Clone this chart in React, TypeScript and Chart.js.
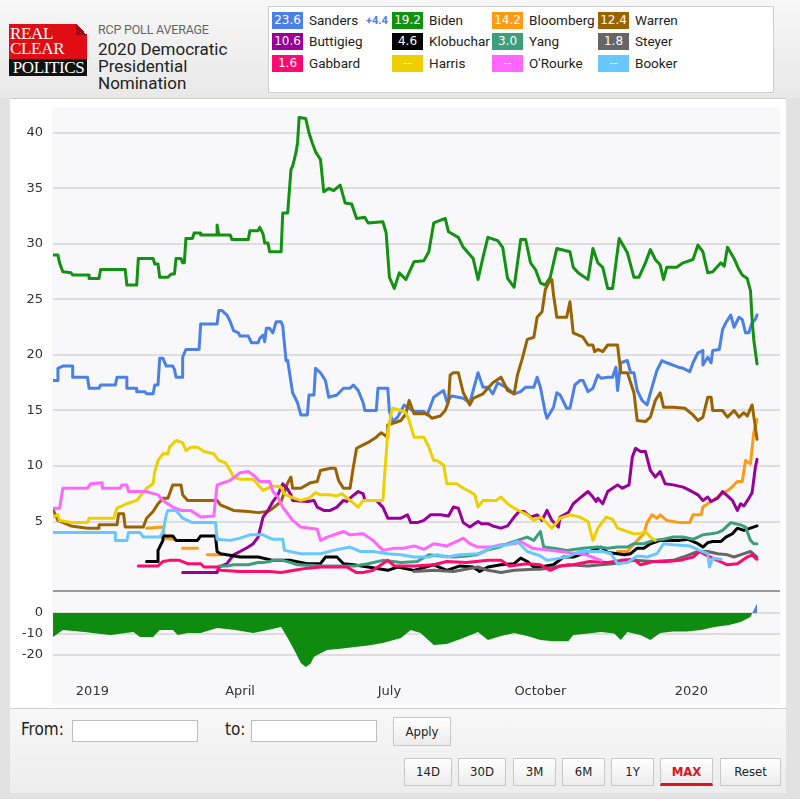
import React, { useEffect, useRef } from "react";
import { Chart, registerables } from "chart.js";
Chart.register(...registerables);

// x values are days since 1 Jan 2019
const tickDays = [0, 90, 181, 273, 365];
const tickLabels = ["2019", "April", "July", "October", "2020"];
const mainTicks = [5, 10, 15, 20, 25, 30, 35, 40];
const spreadTicks = [0, -10, -20];

const sandersData: [number, number][] = [[-24,17.7],[-21,17.7],[-21,18.8],[-18,19.0],[-12,19.0],[-12,18.0],[-3,18.0],[-2,17.0],[4,17.0],[5,17.3],[14,17.3],[15,18.0],[21,18.0],[21,17.0],[27,17.0],[27,16.7],[32,16.7],[33,16.5],[37,16.5],[38,17.3],[40,17.3],[41,19.7],[43,19.7],[45,19.0],[49,19.0],[50,18.7],[51,18.0],[55,18.0],[55,19.8],[57,20.5],[65,20.5],[66,22.8],[76,22.8],[77,24.0],[79,24.0],[82,23.6],[84,23.0],[86,22.2],[89,22.0],[90,21.7],[95,21.7],[97,21.1],[101,21.1],[102,21.5],[104,21.8],[105,21.2],[106,22.4],[108,22.4],[110,22.0],[112,23.0],[115,23.0],[116,22.6],[118,19.5],[119,19.5],[122,16.6],[125,15.7],[127,14.6],[131,14.6],[132,16.4],[135,16.4],[136,18.8],[139,18.4],[142,17.7],[144,16.2],[149,16.4],[153,17.0],[157,17.0],[159,17.3],[162,16.8],[165,15.7],[166,15.0],[173,15.0],[174,17.0],[180,17.0],[181,14.9],[183,14.0],[186,14.4],[190,15.5],[196,14.9],[202,14.9],[204,14.6],[208,16.2],[211,16.5],[214,16.8],[216,15.8],[219,16.3],[223,16.2],[226,16.1],[230,15.7],[235,18.4],[238,17.1],[241,17.1],[244,16.5],[247,17.5],[253,17.0],[257,16.5],[261,16.7],[264,17.1],[269,17.1],[271,18.0],[273,17.1],[276,14.8],[277,14.3],[281,15.3],[283,16.6],[285,16.4],[289,15.2],[291,15.2],[294,17.3],[297,17.7],[299,17.7],[302,16.7],[305,17.0],[308,18.2],[310,17.9],[314,18.0],[317,18.0],[319,18.9],[320,16.8],[322,19.3],[326,19.5],[328,18.4],[330,18.4],[332,16.8],[335,15.9],[338,15.5],[341,17.1],[344,18.6],[347,19.5],[350,19.3],[357,18.9],[360,18.8],[364,18.5],[366,19.3],[369,20.2],[372,20.4],[372,19.1],[375,19.8],[377,19.3],[378,20.4],[382,20.5],[384,22.3],[386,22.9],[389,23.6],[391,22.5],[394,23.4],[396,23.2],[398,22.0],[400,22.0],[402,22.9],[404,23.2],[405,23.6]];

const bidenData: [number, number][] = [[-24,29.0],[-21,29.0],[-20,28.3],[-18,27.5],[-13,27.4],[-12,27.2],[-2,27.2],[-2,26.9],[4,26.9],[5,27.7],[20,27.7],[21,26.3],[27,26.3],[28,28.7],[37,28.7],[38,28.2],[40,28.2],[41,27.0],[46,27.0],[48,27.3],[50,27.3],[51,28.7],[54,28.7],[55,28.3],[56,28.3],[57,30.5],[61,30.5],[62,31.0],[66,31.0],[66,30.8],[76,30.8],[76,31.7],[77,30.8],[84,30.8],[85,30.4],[95,30.4],[96,31.2],[101,31.2],[102,31.5],[104,30.9],[105,30.1],[107,30.1],[108,29.3],[115,29.3],[116,32.8],[119,32.8],[121,36.7],[122,37.0],[124,38.2],[125,39.1],[126,41.4],[130,41.3],[132,40.0],[134,39.1],[136,38.3],[139,37.6],[141,34.7],[144,35.0],[147,34.8],[151,35.3],[154,33.7],[158,33.6],[161,32.3],[166,32.4],[168,31.9],[177,32.0],[179,31.0],[181,27.0],[184,26.0],[187,27.4],[191,26.8],[196,28.4],[202,28.5],[205,29.3],[208,31.9],[215,32.3],[217,31.1],[223,30.6],[226,29.7],[232,28.7],[235,26.8],[238,28.8],[241,30.6],[247,30.3],[250,29.7],[253,26.9],[257,26.1],[261,30.4],[264,30.4],[267,28.3],[270,27.7],[273,26.5],[276,26.3],[279,27.0],[283,29.6],[291,29.3],[293,27.9],[296,27.4],[302,26.8],[305,29.6],[308,28.3],[311,27.9],[314,26.0],[317,26.0],[321,30.5],[326,29.2],[330,27.0],[333,27.0],[337,28.3],[340,29.5],[343,28.6],[346,28.1],[348,26.8],[350,27.9],[356,27.9],[360,28.3],[366,28.6],[369,29.9],[372,29.3],[375,27.4],[378,27.5],[383,28.3],[385,28.0],[387,29.7],[391,28.7],[394,27.7],[396,27.2],[399,26.9],[401,25.8],[402,23.2],[403,21.4],[405,19.2]];

const bloombergData: [number, number | null][] = [[33,4.4],[43,4.5],[44,3.5],[50,3.4],[51,null],[55,2.6],[64,2.6],[65,null],[70,2.0],[79,2.0],[80,null],[320,2.3],[326,2.3],[332,3.3],[336,3.9],[338,4.9],[341,5.6],[344,5.3],[346,5.6],[350,5.1],[358,4.9],[364,4.9],[366,5.6],[371,5.6],[372,6.3],[377,6.8],[381,7.2],[385,7.6],[389,8.0],[393,8.6],[396,8.6],[398,10.5],[401,10.2],[403,13.0],[405,14.2]];

const warrenData: [number, number][] = [[-24,6.1],[-21,5.1],[-13,4.6],[-3,4.4],[4,4.4],[4,4.7],[15,4.7],[16,5.7],[19,5.7],[20,4.5],[31,4.5],[33,5.3],[37,5.9],[40,6.6],[43,7.1],[46,7.1],[49,8.3],[54,8.3],[55,7.4],[58,6.9],[76,6.9],[78,6.5],[86,6.0],[95,5.9],[101,5.8],[107,5.9],[110,6.2],[115,6.8],[119,8.5],[121,9.0],[122,8.0],[127,8.0],[133,8.5],[137,8.6],[139,9.6],[145,9.8],[148,9.8],[150,8.7],[153,8.0],[157,8.0],[159,9.9],[161,11.6],[165,11.9],[169,12.2],[173,12.6],[176,13.0],[180,12.6],[180,13.7],[184,13.9],[188,14.1],[191,14.7],[193,15.9],[196,14.7],[204,14.7],[207,14.3],[212,14.5],[215,15.0],[217,15.8],[218,18.2],[220,18.4],[223,18.4],[226,16.6],[230,15.5],[232,16.1],[238,16.5],[244,17.5],[249,18.0],[253,16.8],[257,16.5],[259,18.2],[262,19.7],[265,21.4],[269,21.6],[271,23.4],[274,23.9],[276,25.9],[278,26.5],[280,26.8],[281,25.4],[283,23.4],[289,23.4],[291,24.8],[293,22.0],[299,21.6],[302,20.9],[305,20.9],[306,20.3],[308,20.5],[311,20.3],[314,20.9],[320,20.9],[322,18.4],[326,18.4],[330,16.6],[332,14.1],[337,14.0],[340,14.4],[343,15.9],[346,16.6],[348,15.3],[354,15.3],[361,15.2],[366,14.6],[369,14.1],[372,14.4],[375,16.2],[377,16.2],[378,15.0],[384,15.0],[387,14.4],[391,15.0],[394,14.4],[397,14.8],[399,14.5],[402,15.5],[404,13.5],[405,12.4]];

const buttigiegData: [number, number][] = [[55,0.4],[76,0.4],[77,0.9],[82,1.2],[86,2.0],[90,2.3],[95,2.7],[98,3.0],[101,3.6],[104,5.4],[107,6.0],[110,6.8],[113,7.4],[116,8.4],[119,7.9],[121,7.4],[122,6.9],[131,6.8],[135,6.9],[137,6.3],[141,6.0],[145,6.0],[149,6.3],[153,6.9],[155,6.8],[157,7.1],[162,7.7],[165,7.5],[166,6.9],[173,6.9],[177,6.3],[180,5.3],[188,5.3],[192,5.6],[194,4.9],[198,4.9],[202,5.1],[206,5.6],[212,5.6],[217,5.5],[220,6.3],[223,6.2],[226,4.9],[230,4.5],[235,5.0],[237,4.8],[241,4.8],[244,4.6],[249,4.4],[253,4.6],[257,5.4],[260,5.9],[263,5.9],[267,5.4],[271,5.6],[274,5.1],[277,6.0],[280,5.1],[284,4.5],[285,5.4],[290,5.8],[293,6.6],[297,7.1],[302,7.7],[305,7.2],[307,6.8],[308,7.1],[311,6.6],[314,7.7],[317,8.0],[320,8.3],[323,8.0],[327,8.3],[329,10.8],[331,11.6],[334,11.3],[337,11.3],[340,9.6],[343,9.0],[346,9.5],[349,8.4],[354,8.3],[360,8.1],[364,7.8],[369,7.4],[372,6.9],[375,7.2],[377,6.8],[381,7.1],[384,7.7],[387,7.3],[390,6.9],[393,6.0],[395,6.6],[397,6.4],[400,7.1],[402,7.6],[404,9.9],[405,10.6]];

const klobucharData: [number, number][] = [[33,1.4],[40,1.4],[40,2.4],[43,3.3],[43,3.7],[49,3.7],[51,3.3],[64,3.3],[66,3.7],[75,3.7],[76,2.3],[78,2.1],[82,2.0],[90,1.8],[101,1.8],[110,1.5],[121,1.5],[131,1.2],[139,1.2],[142,1.8],[149,1.8],[153,1.2],[159,1.1],[168,0.9],[180,0.6],[186,0.9],[196,0.6],[208,1.1],[216,0.6],[224,1.0],[232,0.9],[236,0.5],[241,0.9],[249,1.1],[257,1.2],[261,1.7],[265,1.4],[269,0.9],[273,0.9],[281,1.1],[287,1.8],[293,1.8],[299,2.1],[305,2.4],[310,2.7],[314,2.2],[320,2.1],[324,2.0],[328,2.1],[332,2.6],[336,2.6],[340,3.0],[346,3.3],[352,3.3],[358,3.3],[363,3.4],[369,3.0],[372,2.7],[375,3.1],[378,3.2],[383,3.2],[386,3.6],[390,3.9],[393,4.4],[397,4.2],[401,4.4],[405,4.6]];

const yangData: [number, number][] = [[77,1.0],[82,1.0],[86,1.1],[95,1.1],[101,1.3],[104,1.3],[108,1.4],[110,1.5],[116,1.5],[121,1.3],[125,1.1],[140,1.0],[160,1.0],[168,1.2],[177,1.5],[188,1.3],[198,1.4],[205,2.0],[212,1.9],[220,1.8],[228,1.9],[234,2.0],[240,2.4],[248,2.7],[253,3.0],[259,3.3],[265,3.6],[269,3.3],[273,4.1],[275,2.7],[281,2.6],[289,2.4],[299,2.6],[308,2.7],[314,2.6],[320,2.7],[326,2.7],[330,3.0],[336,3.0],[342,3.3],[348,3.4],[354,3.6],[360,3.6],[366,3.4],[372,3.8],[377,3.9],[381,4.0],[384,4.2],[389,4.9],[392,4.8],[395,4.7],[398,4.5],[401,3.3],[403,3.0],[405,3.0]];

const steyerData: [number, number][] = [[196,0.5],[208,0.6],[220,0.5],[235,0.9],[241,0.6],[249,0.4],[257,0.6],[269,0.7],[273,0.7],[282,0.9],[290,1.1],[302,1.0],[310,1.1],[317,1.2],[330,1.5],[342,1.4],[354,1.5],[360,1.8],[369,2.3],[375,2.3],[381,2.1],[387,2.0],[391,1.8],[397,2.1],[401,2.3],[405,1.8]];

const gabbardData: [number, number][] = [[28,1.0],[40,1.0],[43,1.4],[47,1.5],[53,1.5],[58,1.2],[66,1.2],[68,0.9],[76,0.9],[78,0.6],[90,0.5],[101,0.5],[108,0.5],[115,0.4],[123,0.6],[131,0.8],[139,0.9],[155,0.9],[161,0.4],[165,0.4],[171,0.6],[180,1.5],[184,1.0],[196,1.0],[208,1.1],[216,1.4],[228,1.3],[241,1.5],[249,1.5],[254,1.0],[265,1.2],[273,1.1],[279,0.6],[285,1.0],[293,1.1],[303,1.4],[314,1.3],[322,1.5],[330,1.6],[334,1.1],[342,1.4],[350,1.4],[358,1.5],[366,1.8],[370,2.3],[375,1.9],[381,1.5],[387,1.1],[393,1.2],[399,1.8],[402,2.0],[404,1.7],[405,1.6]];

const harrisData: [number, number][] = [[-24,5.4],[-21,5.6],[-20,5.1],[-12,4.9],[-3,4.9],[-2,5.3],[13,5.3],[15,6.2],[21,6.6],[27,6.9],[31,7.6],[33,8.0],[37,8.4],[38,9.5],[40,10.5],[43,11.1],[46,11.1],[47,11.7],[51,12.3],[55,12.1],[57,11.4],[60,11.7],[64,11.7],[68,11.3],[74,11.1],[77,10.5],[81,10.3],[84,9.6],[86,9.0],[90,8.8],[98,8.8],[101,8.3],[104,7.8],[110,8.2],[115,8.1],[117,7.5],[121,7.2],[127,6.9],[132,7.1],[136,7.6],[139,7.4],[145,7.4],[149,7.3],[152,7.5],[157,6.9],[162,6.3],[165,6.9],[177,6.9],[178,9.0],[180,13.0],[182,14.7],[183,15.2],[188,15.0],[191,14.8],[193,14.1],[196,12.6],[202,12.6],[205,11.7],[208,10.5],[210,10.5],[214,10.1],[216,8.4],[222,8.4],[226,8.0],[230,7.7],[233,7.4],[235,6.3],[238,6.9],[246,6.9],[249,7.2],[253,6.6],[257,6.2],[261,5.9],[265,5.6],[269,5.1],[273,5.4],[276,5.0],[280,4.4],[285,5.3],[291,5.6],[297,5.4],[302,5.0],[305,3.3],[308,4.4],[313,5.4],[317,5.2],[320,4.4],[326,4.1],[330,3.9],[334,3.9],[337,4.1],[340,3.6],[343,3.3]];

const orourkeData: [number, number][] = [[-24,6.2],[-20,6.2],[-18,8.0],[-3,8.0],[-1,8.4],[6,8.5],[6,8.0],[17,8.0],[18,8.3],[21,8.3],[22,7.7],[33,7.7],[35,7.6],[40,7.4],[43,6.9],[49,6.3],[54,6.0],[60,6.0],[66,5.4],[74,5.5],[76,8.3],[84,8.7],[90,9.4],[95,9.5],[98,9.2],[102,8.6],[108,8.6],[110,7.7],[113,7.2],[116,6.3],[122,5.1],[127,4.5],[137,4.3],[139,3.3],[143,3.6],[153,4.1],[157,3.8],[165,3.9],[171,3.3],[177,2.4],[184,2.6],[190,2.6],[196,2.8],[202,2.5],[208,3.0],[216,2.8],[222,3.2],[226,3.5],[230,3.0],[235,2.7],[243,2.7],[249,2.9],[257,3.0],[261,3.2],[268,2.6],[279,2.4],[290,2.2],[301,2.0],[310,1.5]];

const bookerData: [number, number][] = [[-24,4.0],[14,4.0],[14,3.3],[21,3.3],[22,4.0],[29,4.0],[31,3.6],[41,3.6],[43,4.0],[45,5.6],[46,6.0],[51,6.0],[55,5.3],[61,4.9],[75,4.9],[76,3.4],[84,3.3],[90,3.5],[96,3.8],[104,3.8],[110,3.4],[116,3.4],[117,2.4],[127,2.1],[139,2.1],[147,2.4],[157,2.7],[163,2.3],[171,2.3],[180,2.1],[188,2.0],[196,1.8],[205,1.8],[210,2.0],[216,1.8],[224,2.0],[236,2.1],[244,2.7],[253,2.9],[259,3.2],[265,2.3],[273,1.9],[277,1.5],[285,1.7],[291,1.9],[297,2.3],[305,2.3],[311,2.3],[316,2.1],[320,1.2],[326,1.3],[332,1.9],[338,1.8],[344,2.1],[348,3.0],[354,2.9],[364,2.8],[370,2.4],[375,2.1],[376,0.9],[378,1.7],[383,1.6]];

// Sanders minus Biden spread (lower panel)
const spreadData: [number, number][] = [[-24,-11.4],[-18,-8.1],[-5,-9.0],[11,-10.5],[25,-9.0],[29,-11.4],[37,-11.4],[41,-8.1],[49,-8.1],[52,-10.5],[58,-9.5],[66,-9.5],[76,-7.1],[86,-8.0],[98,-9.5],[107,-8.1],[115,-6.7],[119,-11.9],[123,-17.6],[127,-23.8],[130,-25.7],[133,-24.0],[135,-21.0],[137,-20.0],[143,-17.6],[151,-17.0],[160,-16.2],[168,-15.5],[177,-14.3],[188,-11.9],[194,-8.1],[200,-9.5],[208,-15.2],[216,-14.8],[224,-12.5],[235,-9.0],[241,-12.9],[249,-11.0],[257,-9.5],[265,-11.0],[273,-12.9],[281,-13.5],[290,-13.5],[293,-10.5],[302,-9.8],[310,-9.0],[318,-9.8],[322,-12.9],[326,-9.0],[334,-10.5],[340,-12.9],[346,-9.5],[354,-8.8],[362,-8.8],[371,-8.1],[379,-6.7],[388,-5.7],[395,-4.3],[401,-1.9],[403,1.4],[405,4.4]];

const legendNames = ["Sanders", "Biden", "Bloomberg", "Warren", "Buttigieg", "Klobuchar", "Yang", "Steyer", "Gabbard", "Harris", "O'Rourke", "Booker"];
const legendValues = ["23.6", "19.2", "14.2", "12.4", "10.6", "4.6", "3.0", "1.8", "1.6", "--", "--", "--"];
const leaderMargin = "+4.4";

const COLORS: Record<string, string> = {
  Sanders: "#4a80e8",
  Biden: "#129112",
  Bloomberg: "#ff9a15",
  Warren: "#9a6200",
  Buttigieg: "#990099",
  Klobuchar: "#000000",
  Yang: "#3d9e7c",
  Steyer: "#666666",
  Gabbard: "#ff0a6e",
  Harris: "#eed000",
  "O'Rourke": "#ff66ff",
  Booker: "#66c8ff",
};

const seriesByName: Record<string, [number, number | null][]> = {
  Booker: bookerData,
  "O'Rourke": orourkeData,
  Harris: harrisData,
  Gabbard: gabbardData,
  Steyer: steyerData,
  Yang: yangData,
  Klobuchar: klobucharData,
  Buttigieg: buttigiegData,
  Warren: warrenData,
  Bloomberg: bloombergData,
  Biden: bidenData,
  Sanders: sandersData,
};

const AXIS_FONT = { family: "'DejaVu Sans', Verdana, sans-serif", size: 13 };
const X_MIN = -24;
const X_MAX = 419;

const zeroPad = (s: any) => {
  s.paddingTop = 0;
  s.paddingBottom = 0;
  s.paddingLeft = 0;
  s.paddingRight = 0;
};

const separatorPlugin = {
  id: "separator",
  beforeDatasetsDraw(chart: any) {
    const { ctx, chartArea } = chart;
    ctx.save();
    ctx.strokeStyle = "#9a9a9a";
    ctx.lineWidth = 2;
    ctx.beginPath();
    ctx.moveTo(chartArea.left, chartArea.bottom);
    ctx.lineTo(chartArea.right, chartArea.bottom);
    ctx.stroke();
    ctx.restore();
  },
};

function App() {
  const mainRef = useRef<HTMLCanvasElement>(null);
  const spreadRef = useRef<HTMLCanvasElement>(null);

  useEffect(() => {
    const datasets = Object.keys(seriesByName).map((name) => ({
      label: name,
      data: seriesByName[name].map(([x, y]) => ({ x, y })),
      borderColor: COLORS[name],
      backgroundColor: COLORS[name],
      borderWidth: 3,
      pointRadius: 0,
      tension: 0,
      fill: false,
      spanGaps: false,
    }));

    const main = new Chart(mainRef.current!, {
      type: "line",
      data: { datasets } as any,
      options: {
        animation: false,
        responsive: false,
        maintainAspectRatio: false,
        layout: { padding: { top: 7, right: 6, bottom: 6, left: 0 }, autoPadding: false } as any,
        plugins: { legend: { display: false }, tooltip: { enabled: false } },
        elements: { line: { borderJoinStyle: "round", borderCapStyle: "round" } },
        scales: {
          x: { type: "linear", min: X_MIN, max: X_MAX, display: false },
          y: {
            type: "linear",
            min: -1.26,
            max: 42.34,
            afterFit: (s: any) => { s.width = 43; zeroPad(s); },
            afterBuildTicks: (s: any) => { s.ticks = mainTicks.map((v) => ({ value: v })); },
            grid: { color: "#dddddd", lineWidth: 2, drawTicks: false },
            border: { display: false },
            ticks: { padding: 10, color: "#333", font: AXIS_FONT },
          },
        },
      } as any,
      plugins: [separatorPlugin],
    });

    const spread = new Chart(spreadRef.current!, {
      type: "line",
      data: {
        datasets: [
          {
            label: "Spread",
            data: spreadData.map(([x, y]) => ({ x, y })),
            borderWidth: 0,
            borderColor: "rgba(0,0,0,0)",
            pointRadius: 0,
            tension: 0,
            fill: { target: "origin", above: "#4a80e8", below: "#0f8c0f" },
          },
        ],
      } as any,
      options: {
        animation: false,
        responsive: false,
        maintainAspectRatio: false,
        layout: { padding: { top: 3, right: 6, bottom: 0, left: 0 }, autoPadding: false } as any,
        plugins: { legend: { display: false }, tooltip: { enabled: false } },
        scales: {
          x: {
            type: "linear",
            min: X_MIN,
            max: X_MAX,
            afterFit: (s: any) => { s.height = 33; zeroPad(s); },
            afterBuildTicks: (s: any) => { s.ticks = tickDays.map((v) => ({ value: v })); },
            grid: { display: false, drawTicks: false },
            border: { display: false },
            ticks: {
              padding: 9,
              maxRotation: 0,
              autoSkip: false,
              color: "#333",
              font: AXIS_FONT,
              callback: (v: any) => {
                const i = tickDays.indexOf(Number(v));
                return i >= 0 ? tickLabels[i] : "";
              },
            },
          },
          y: {
            type: "linear",
            min: -29.52,
            max: 6.19,
            afterFit: (s: any) => { s.width = 43; zeroPad(s); },
            afterBuildTicks: (s: any) => { s.ticks = spreadTicks.map((v) => ({ value: v })); },
            grid: { color: "#dddddd", lineWidth: 2, drawTicks: false },
            border: { display: false },
            ticks: { padding: 10, color: "#333", font: AXIS_FONT },
          },
        },
      } as any,
    });

    return () => {
      main.destroy();
      spread.destroy();
    };
  }, []);

  const abs = (l: number, t: number, w?: number, h?: number): React.CSSProperties => ({
    position: "absolute",
    left: l,
    top: t,
    ...(w !== undefined ? { width: w } : {}),
    ...(h !== undefined ? { height: h } : {}),
  });

  const colX = [272, 392, 492, 598];
  const rowY = [12, 33, 55];

  const btn = (label: string, l: number, w: number, active = false) => (
    <div
      key={label}
      style={{
        ...abs(l, 758, w, 28),
        boxSizing: "border-box",
        border: "1px solid #c8c8c8",
        background: "linear-gradient(#ffffff, #ececec)",
        fontFamily: "'DejaVu Sans Condensed', 'DejaVu Sans', sans-serif",
        fontStretch: "condensed",
        fontSize: 13,
        lineHeight: "26px",
        textAlign: "center",
        color: active ? "#e0141e" : "#222",
        fontWeight: active ? "bold" : "normal",
        borderBottom: active ? "3px solid #e0141e" : "1px solid #c8c8c8",
      }}
    >
      {label}
    </div>
  );

  return (
    <div style={{ ...abs(0, 0, 800, 799), background: "#e2e2e2", overflow: "hidden", fontFamily: "Roboto, sans-serif" }}>
      {/* header */}
      <div style={{ ...abs(0, 0, 800, 98), background: "linear-gradient(#f7f7f7, #e8e8e8)" }} />
      {/* logo */}
      <div style={{ ...abs(9, 24, 78, 36), background: "#e00d14" }} />
      <div style={{ ...abs(76, 24, 11, 11), background: "linear-gradient(225deg, #f0f0f0 50%, #a00a10 50%)" }} />
      <div style={{ ...abs(9, 59, 78, 17), background: "#111" }} />
      <div style={{ ...abs(10, 26), color: "#fff", fontFamily: "'Liberation Serif', serif", fontSize: 17, lineHeight: "15px", letterSpacing: -0.3 }}>
        REAL<br />CLEAR
      </div>
      <div style={{ ...abs(10, 60, 77, 16), color: "#fff", fontFamily: "'Liberation Serif', serif", fontSize: 17, lineHeight: "16px", textAlign: "center", letterSpacing: -0.4 }}>
        POLITICS
      </div>
      <div style={{ ...abs(98, 22), color: "#666", fontSize: 12.5, letterSpacing: -0.2 }}>RCP POLL AVERAGE</div>
      <div style={{ ...abs(98, 41), color: "#222", fontSize: 17, lineHeight: "17px" }}>
        2020 Democratic<br />Presidential<br />Nomination
      </div>

      {/* legend */}
      <div style={{ ...abs(268, 6, 506, 87), background: "#fff", border: "1px solid #cfcfcf", boxSizing: "border-box" }} />
      {legendNames.map((name, i) => {
        const c = i % 4;
        const r = Math.floor(i / 4);
        return (
          <React.Fragment key={name}>
            <div
              style={{
                ...abs(colX[c], rowY[r], 31, 17),
                background: COLORS[name],
                color: "#fff",
                fontFamily: "'DejaVu Sans', sans-serif",
                fontSize: 12,
                lineHeight: "17px",
                textAlign: "center",
              }}
            >
              {legendValues[i]}
            </div>
            <div style={{ ...abs(colX[c] + 37, rowY[r] - 1), fontSize: 13.5, lineHeight: "19px", color: "#222" }}>{name}</div>
          </React.Fragment>
        );
      })}
      <div style={{ ...abs(366, 13), color: "#4a80e8", fontSize: 11, fontWeight: "bold", lineHeight: "16px" }}>{leaderMargin}</div>

      {/* chart panel */}
      <div style={{ ...abs(10, 98, 776, 610), background: "#fff", borderTop: "1px solid #cccccc", boxSizing: "border-box" }} />
      <div style={{ ...abs(52, 107, 728, 598), background: "#f8f8fb" }} />
      <canvas ref={mainRef} width={776} height={497} style={{ ...abs(10, 100, 776, 497) }} />
      <canvas ref={spreadRef} width={776} height={111} style={{ ...abs(10, 597, 776, 111) }} />

      {/* controls */}
      <div style={{ ...abs(10, 708, 776, 85), background: "linear-gradient(#f7f7f7, #ededed)", borderTop: "1px solid #cfcfcf", boxSizing: "border-box" }} />
      <div style={{ ...abs(21, 719), fontFamily: "'DejaVu Sans Condensed', 'DejaVu Sans', sans-serif", fontStretch: "condensed", fontSize: 17, color: "#222" }}>From:</div>
      <div style={{ ...abs(72, 720, 126, 22), background: "#fff", border: "1px solid #bdbdbd", boxSizing: "border-box" }} />
      <div style={{ ...abs(225, 719), fontFamily: "'DejaVu Sans Condensed', 'DejaVu Sans', sans-serif", fontStretch: "condensed", fontSize: 17, color: "#222" }}>to:</div>
      <div style={{ ...abs(251, 720, 126, 22), background: "#fff", border: "1px solid #bdbdbd", boxSizing: "border-box" }} />
      <div
        style={{
          ...abs(393, 717, 58, 29),
          boxSizing: "border-box",
          border: "1px solid #c8c8c8",
          background: "linear-gradient(#ffffff, #ececec)",
          fontFamily: "'DejaVu Sans Condensed', 'DejaVu Sans', sans-serif",
          fontStretch: "condensed",
          fontSize: 13,
          lineHeight: "27px",
          textAlign: "center",
          color: "#222",
        }}
      >
        Apply
      </div>
      {btn("14D", 404, 48)}
      {btn("30D", 458, 48)}
      {btn("3M", 513, 43)}
      {btn("6M", 562, 43)}
      {btn("1Y", 611, 43)}
      {btn("MAX", 660, 53, true)}
      {btn("Reset", 720, 61)}
    </div>
  );
}

export default App;
